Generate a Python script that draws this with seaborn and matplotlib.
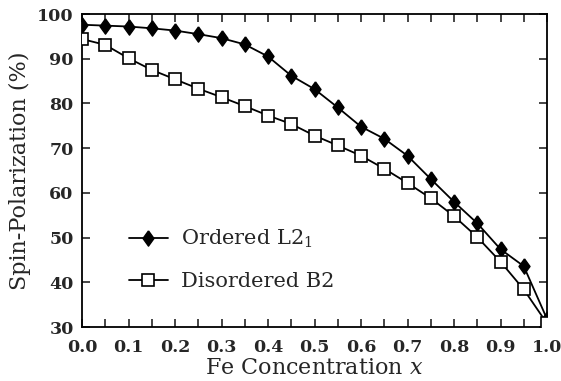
import numpy as np
import pandas as pd
import seaborn as sns
import matplotlib
matplotlib.use("Agg")
import matplotlib.pyplot as plt
from matplotlib.ticker import MultipleLocator

fe_x = [0.0, 0.05, 0.1, 0.15, 0.2, 0.25, 0.3, 0.35, 0.4, 0.45, 0.5,
        0.55, 0.6, 0.65, 0.7, 0.75, 0.8, 0.85, 0.9, 0.95, 1.0]
ordered_l21 = [97.6, 97.4, 97.2, 96.8, 96.3, 95.5, 94.6, 93.2, 90.5, 86.2, 83.2,
               79.1, 74.8, 72.1, 68.3, 63.1, 58.0, 53.2, 47.4, 43.6, 31.8]
disordered_b2 = [94.4, 93.1, 90.1, 87.5, 85.4, 83.3, 81.4, 79.4, 77.3, 75.4, 72.8,
                 70.6, 68.3, 65.4, 62.2, 58.8, 54.8, 50.1, 44.6, 38.4, 30.8]
series_names = ["Ordered L2$_1$", "Disordered B2"]
x_ticks = [0.0, 0.1, 0.2, 0.3, 0.4, 0.5, 0.6, 0.7, 0.8, 0.9, 1.0]
y_ticks = [30, 40, 50, 60, 70, 80, 90, 100]

sns.set_style("ticks")
plt.rcParams['font.family'] = ['DejaVu Serif']
plt.rcParams['mathtext.fontset'] = 'dejavuserif'

df = pd.DataFrame({
    "x": fe_x * 2,
    "y": ordered_l21 + disordered_b2,
    "series": [series_names[0]] * len(fe_x) + [series_names[1]] * len(fe_x),
})

diamond = [(0, 1), (0.72, 0), (0, -1), (-0.72, 0), (0, 1)]

fig = plt.figure(figsize=(5.61, 3.81), dpi=100)
ax = fig.add_axes([82/561, 1 - 327/381, (547-82)/561, (327-14)/381])

sns.lineplot(data=df[df.series == series_names[0]], x="x", y="y", ax=ax,
             color="black", lw=1.3, marker=diamond, markersize=11,
             markerfacecolor="black", markeredgecolor="black", markeredgewidth=1.0,
             label=series_names[0], zorder=3)
sns.lineplot(data=df[df.series == series_names[1]], x="x", y="y", ax=ax,
             color="black", lw=1.3, marker="s", markersize=8.5,
             markerfacecolor="white", markeredgecolor="black", markeredgewidth=1.2,
             label=series_names[1], zorder=4)

ax.set_xlim(0, 1.0)
ax.set_ylim(30, 100)
ax.set_xticks(x_ticks)
ax.set_xticklabels([f"{v:.1f}" for v in x_ticks])
ax.xaxis.set_minor_locator(MultipleLocator(0.05))
ax.set_yticks(y_ticks)
ax.tick_params(which="both", direction="in", top=True, right=True,
               width=1.2, labelsize=12.5)
ax.tick_params(axis="x", pad=9)
ax.tick_params(axis="y", pad=6)
ax.tick_params(which="major", length=6)
ax.tick_params(which="minor", length=6)
for lbl in ax.get_xticklabels() + ax.get_yticklabels():
    lbl.set_fontweight("bold")
for s in ax.spines.values():
    s.set_linewidth(1.3)
    s.set_color("black")

ax.set_xlabel("Fe Concentration $x$", fontsize=16, labelpad=0)
ax.set_ylabel("Spin-Polarization (%)", fontsize=16, labelpad=4)

leg = ax.legend(loc="lower left", bbox_to_anchor=(0.06, 0.055), frameon=False,
                fontsize=15, handlelength=1.9, labelspacing=1.05, handletextpad=0.6)

fig.savefig("out.png", dpi=100)
